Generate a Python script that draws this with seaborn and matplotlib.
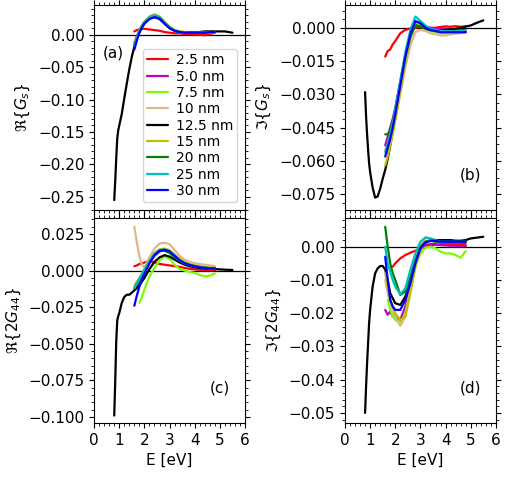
import numpy as np
import pandas as pd
import matplotlib
matplotlib.use("Agg")
import matplotlib.pyplot as plt
from matplotlib.ticker import MultipleLocator, AutoMinorLocator
import seaborn as sns

# energy grids
energy = [1.6, 1.7, 1.8, 1.9, 2.0, 2.2, 2.4, 2.6, 2.8, 3.0, 3.2, 3.4, 3.6, 3.8, 4.0, 4.2, 4.4, 4.6, 4.8]
energy_125 = [0.8, 0.84, 0.88, 0.92, 0.96, 1.0, 1.1, 1.2, 1.3, 1.4, 1.5, 1.6, 1.7, 1.8, 2.0, 2.2,
              2.4, 2.6, 2.8, 3.0, 3.2, 3.4, 3.6, 3.8, 4.0, 4.2, 4.4, 4.6, 4.8, 5.0, 5.2, 5.5]

sizes = ['2.5 nm', '5.0 nm', '7.5 nm', '10 nm', '12.5 nm', '15 nm', '20 nm', '25 nm', '30 nm']
colors = ['red', 'm', 'lawngreen', 'burlywood', 'k', 'y', 'green', 'c', 'blue']
nan = np.nan

# (a) Re{G_s}
a_2p5 = [0.005, 0.007, 0.008, 0.009, 0.009, 0.008, 0.007, 0.006, 0.004, 0.003, 0.002, 0.002, 0.001, 0.001, 0.0, 0.0, -0.001, 0.001, 0.003]
a_5p0 = [-0.013, -0.002, 0.007, 0.014, 0.019, 0.026, 0.029, 0.026, 0.018, 0.011, 0.006, 0.004, 0.003, 0.003, 0.003, 0.003, 0.003, 0.004, 0.004]
a_7p5 = [nan, nan, 0.004, 0.012, 0.018, 0.027, 0.030, 0.027, 0.019, 0.011, 0.006, 0.004, 0.003, 0.003, 0.003, 0.003, 0.003, 0.004, 0.004]
a_10 = [-0.016, -0.004, 0.006, 0.014, 0.020, 0.028, 0.031, 0.028, 0.020, 0.012, 0.007, 0.005, 0.004, 0.003, 0.003, 0.003, 0.003, 0.004, 0.004]
a_12p5 = [-0.255, -0.225, -0.19, -0.16, -0.147, -0.140, -0.122, -0.098, -0.075, -0.053, -0.034, -0.018, -0.006, 0.004, 0.018, 0.025,
          0.027, 0.024, 0.017, 0.010, 0.006, 0.004, 0.004, 0.004, 0.004, 0.004, 0.005, 0.005, 0.005, 0.005, 0.005, 0.003]
a_15 = [-0.017, -0.004, 0.006, 0.014, 0.020, 0.028, 0.031, 0.028, 0.020, 0.012, 0.007, 0.005, 0.004, 0.003, 0.003, 0.003, 0.003, 0.004, 0.004]
a_20 = [-0.016, -0.004, 0.005, 0.013, 0.019, 0.026, 0.029, 0.026, 0.018, 0.011, 0.006, 0.004, 0.003, 0.003, 0.003, 0.003, 0.003, 0.004, 0.004]
a_25 = [-0.018, -0.005, 0.005, 0.013, 0.019, 0.027, 0.030, 0.027, 0.019, 0.011, 0.006, 0.004, 0.003, 0.003, 0.003, 0.003, 0.003, 0.004, 0.004]
a_30 = [-0.023, -0.009, 0.003, 0.011, 0.017, 0.024, 0.027, 0.025, 0.017, 0.010, 0.006, 0.004, 0.003, 0.003, 0.003, 0.003, 0.003, 0.004, 0.004]

# (b) Im{G_s}
b_2p5 = [-0.013, -0.0105, -0.0098, -0.0075, -0.006, -0.0025, -0.001, -0.0003, 0.0, 0.0003, 0.0, -0.0002, 0.0, 0.0003, 0.0006, 0.0004, 0.0007, 0.0004, 0.0006]
b_5p0 = [-0.053, -0.049, -0.045, -0.041, -0.036, -0.024, -0.012, -0.003, 0.002, 0.0015, 0.0005, 0.0, -0.0005, -0.0005, -0.0005, -0.0005, -0.001, -0.001, -0.0012]
b_7p5 = [nan, -0.056, -0.051, -0.046, -0.040, -0.027, -0.014, -0.004, 0.0015, 0.001, -0.0005, -0.0015, -0.002, -0.0025, -0.0025, -0.0025, -0.0022, -0.002, -0.002]
b_10 = [-0.055, -0.053, -0.050, -0.046, -0.041, -0.030, -0.018, -0.008, -0.002, -0.001, -0.0015, -0.0025, -0.003, -0.0035, -0.0035, -0.003, -0.0028, -0.0025, -0.002]
b_12p5 = [-0.029, -0.040, -0.048, -0.055, -0.061, -0.065, -0.072, -0.0765, -0.076, -0.0725, -0.068, -0.064, -0.059, -0.053, -0.040, -0.027,
          -0.014, -0.004, 0.002, 0.001, 0.0, -0.0008, -0.0012, -0.0012, -0.001, -0.0008, -0.0005, 0.0, 0.0005, 0.001, 0.002, 0.0033]
b_15 = [-0.062, -0.058, -0.053, -0.048, -0.042, -0.029, -0.016, -0.005, 0.002, 0.0015, 0.0, -0.001, -0.0015, -0.002, -0.002, -0.002, -0.002, -0.002, -0.002]
b_20 = [-0.048, -0.048, -0.046, -0.042, -0.037, -0.025, -0.013, -0.004, 0.001, 0.0005, -0.0005, -0.0012, -0.0015, -0.002, -0.002, -0.002, -0.002, -0.002, -0.002]
b_25 = [-0.056, -0.052, -0.048, -0.043, -0.037, -0.024, -0.011, -0.001, 0.005, 0.003, 0.001, -0.0005, -0.001, -0.0015, -0.0015, -0.0015, -0.0015, -0.0015, -0.0015]
b_30 = [-0.058, -0.054, -0.050, -0.045, -0.039, -0.026, -0.013, -0.003, 0.003, 0.002, 0.0, -0.001, -0.0015, -0.002, -0.002, -0.002, -0.002, -0.002, -0.002]

# (c) Re{2G_44}
c_2p5 = [0.003, 0.0035, 0.0045, 0.005, 0.0055, 0.0065, 0.0055, 0.0045, 0.004, 0.0035, 0.003, 0.0025, 0.0018, 0.0012, 0.0008, 0.0005, 0.0004, 0.0003, 0.0003]
c_5p0 = [-0.013, -0.010, -0.007, -0.004, -0.001, 0.005, 0.010, 0.013, 0.014, 0.013, 0.010, 0.007, 0.005, 0.004, 0.003, 0.002, 0.002, 0.0015, 0.0015]
c_7p5 = [nan, nan, -0.022, -0.018, -0.013, -0.004, 0.002, 0.007, 0.0095, 0.008, 0.004, 0.001, 0.0, -0.001, -0.0015, -0.003, -0.004, -0.0035, -0.002]
c_10 = [0.030, 0.019, 0.010, 0.004, 0.002, 0.009, 0.015, 0.0185, 0.019, 0.018, 0.014, 0.010, 0.0075, 0.006, 0.005, 0.0045, 0.004, 0.0035, 0.003]
c_12p5 = [-0.099, -0.075, -0.048, -0.034, -0.031, -0.029, -0.022, -0.018, -0.0165, -0.0165, -0.015, -0.0135, -0.012, -0.010, -0.005, 0.001,
          0.006, 0.009, 0.0105, 0.0095, 0.0075, 0.0055, 0.004, 0.003, 0.0022, 0.0018, 0.0015, 0.0012, 0.001, 0.0008, 0.0006, 0.0004]
c_15 = [-0.010, -0.0075, -0.005, -0.002, 0.001, 0.007, 0.012, 0.0145, 0.015, 0.014, 0.011, 0.008, 0.006, 0.0045, 0.0035, 0.003, 0.0025, 0.0022, 0.002]
c_20 = [-0.012, -0.009, -0.006, -0.003, 0.0, 0.006, 0.011, 0.0135, 0.0135, 0.012, 0.009, 0.0065, 0.0048, 0.0038, 0.003, 0.0024, 0.002, 0.0016, 0.0015]
c_25 = [-0.012, -0.0085, -0.0055, -0.0025, 0.0005, 0.0065, 0.0115, 0.014, 0.0145, 0.013, 0.010, 0.007, 0.005, 0.004, 0.003, 0.0025, 0.002, 0.0015, 0.0015]
c_30 = [-0.024, -0.017, -0.011, -0.006, -0.002, 0.005, 0.0105, 0.0135, 0.0142, 0.013, 0.010, 0.007, 0.005, 0.0038, 0.003, 0.0022, 0.0018, 0.0015, 0.0015]

# (d) Im{2G_44}
d_2p5 = [nan, nan, nan, -0.006, -0.005, -0.0035, -0.0025, -0.0018, -0.0012, -0.0005, 0.0, 0.0004, 0.0006, 0.0006, 0.0006, 0.0005, 0.0005, 0.0005, 0.0005]
d_5p0 = [-0.019, -0.0205, -0.0195, -0.021, -0.021, -0.022, -0.018, -0.012, -0.005, -0.001, 0.0005, 0.0008, 0.0008, 0.0005, 0.0004, 0.0003, 0.0003, 0.0002, 0.0002]
d_7p5 = [nan, -0.016, -0.019, -0.021, -0.022, -0.023, -0.020, -0.013, -0.006, -0.002, -0.0003, 0.0, -0.0005, -0.0015, -0.002, -0.002, -0.0025, -0.0033, -0.0013]
d_10 = [-0.010, -0.014, -0.017, -0.019, -0.021, -0.0238, -0.021, -0.013, -0.005, 0.0, 0.0028, 0.0025, 0.002, 0.0018, 0.0018, 0.0018, 0.0018, 0.0018, 0.0018]
d_12p5 = [-0.050, -0.042, -0.035, -0.029, -0.023, -0.019, -0.012, -0.008, -0.0065, -0.0058, -0.0058, -0.0068, -0.010, -0.014, -0.017, -0.0175,
          -0.015, -0.011, -0.005, -0.0005, 0.0015, 0.002, 0.002, 0.002, 0.002, 0.002, 0.0018, 0.0018, 0.002, 0.0025, 0.0027, 0.003]
d_15 = [-0.008, -0.012, -0.016, -0.018, -0.020, -0.022, -0.021, -0.014, -0.006, -0.001, 0.0015, 0.002, 0.0015, 0.0012, 0.0012, 0.0012, 0.0012, 0.0012, 0.0012]
d_20 = [0.006, 0.0, -0.005, -0.008, -0.010, -0.0145, -0.0135, -0.009, -0.004, 0.0, 0.0015, 0.0018, 0.0015, 0.0012, 0.0012, 0.0012, 0.0012, 0.0012, 0.0012]
d_25 = [0.0, -0.005, -0.0075, -0.010, -0.012, -0.0143, -0.0125, -0.007, -0.002, 0.0015, 0.0028, 0.0025, 0.002, 0.0015, 0.0015, 0.0015, 0.0015, 0.0015, 0.0015]
d_30 = [-0.003, -0.010, -0.016, -0.018, -0.019, -0.019, -0.016, -0.011, -0.005, -0.0005, 0.0012, 0.0018, 0.0018, 0.0015, 0.0015, 0.0015, 0.0015, 0.0015, 0.0015]

panels = [
    ([a_2p5, a_5p0, a_7p5, a_10, a_12p5, a_15, a_20, a_25, a_30], r'$\Re\{G_s\}$', (-0.27, 0.046), 0.05, '(a)'),
    ([b_2p5, b_5p0, b_7p5, b_10, b_12p5, b_15, b_20, b_25, b_30], r'$\Im\{G_s\}$', (-0.082, 0.0103), 0.015, '(b)'),
    ([c_2p5, c_5p0, c_7p5, c_10, c_12p5, c_15, c_20, c_25, c_30], r'$\Re\{2G_{44}\}$', (-0.104, 0.036), 0.025, '(c)'),
    ([d_2p5, d_5p0, d_7p5, d_10, d_12p5, d_15, d_20, d_25, d_30], r'$\Im\{2G_{44}\}$', (-0.053, 0.0087), 0.01, '(d)'),
]

sns.set_style("ticks")
plt.rcParams['font.family'] = ['DejaVu Sans']
plt.rcParams['axes.edgecolor'] = 'black'
plt.rcParams['xtick.color'] = 'black'
plt.rcParams['ytick.color'] = 'black'
plt.rcParams['text.color'] = 'black'
plt.rcParams['axes.labelcolor'] = 'black'

fig, axes = plt.subplots(2, 2, figsize=(5.06, 4.8), dpi=100)
plt.subplots_adjust(left=0.186, right=0.980, top=0.990, bottom=0.119, wspace=0.662, hspace=0.039)

for i, (series, ylab, ylim, step, tag) in enumerate(panels):
    ax = axes.flat[i]
    ax.axhline(0, color='k', lw=0.9, zorder=1)
    for vals, lab, col in zip(series, sizes, colors):
        xs = energy_125 if lab == '12.5 nm' else energy
        df = pd.DataFrame({'E': xs, 'v': vals}).dropna()
        sns.lineplot(data=df, x='E', y='v', color=col, lw=1.6, ax=ax,
                     label=lab if i == 0 else None, estimator=None, sort=False)
    ax.set_xlim(0, 6)
    ax.set_ylim(*ylim)
    ax.xaxis.set_major_locator(MultipleLocator(1))
    ax.yaxis.set_major_locator(MultipleLocator(step))
    ax.xaxis.set_minor_locator(AutoMinorLocator())
    ax.yaxis.set_minor_locator(AutoMinorLocator())
    ax.tick_params(which='both', direction='out', top=True, right=True, labelsize=11)
    ax.set_ylabel(ylab, fontsize=11)
    if i < 2:
        ax.tick_params(labelbottom=False)
        ax.set_xlabel('')
    else:
        ax.set_xlabel('E [eV]', fontsize=11)
    if i == 0:
        ax.text(0.126, 0.766, tag, transform=ax.transAxes, ha='center', va='center', fontsize=11)
        h, l = ax.get_legend_handles_labels()
        ax.legend(h, l, loc='lower right', fontsize=10, labelspacing=0.17,
                  handlelength=1.5, handletextpad=0.6, borderpad=0.3, borderaxespad=0.55)
    else:
        ax.text(0.83, 0.17, tag, transform=ax.transAxes, ha='center', va='center', fontsize=11)
        if ax.get_legend() is not None:
            ax.get_legend().remove()

plt.savefig('out.png', dpi=100)
